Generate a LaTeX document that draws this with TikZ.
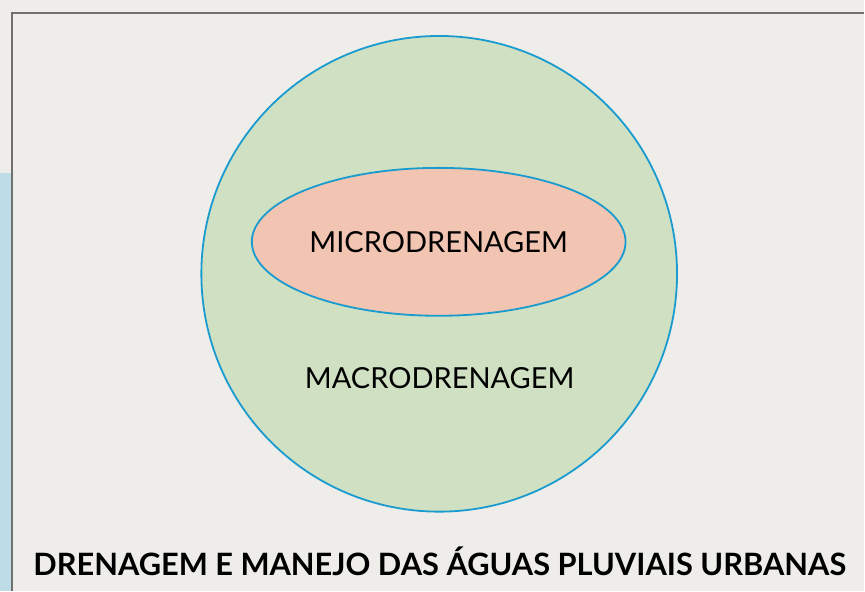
\documentclass[tikz,border=0pt]{standalone}
\usepackage{fontspec}
\setmainfont{Lato}
\usetikzlibrary{shapes.geometric}
\definecolor{paper}{RGB}{238, 237, 233}
\definecolor{rimblue}{RGB}{26, 155, 208}
\definecolor{macrogreen}{RGB}{207, 224, 195}
\definecolor{micropink}{RGB}{242, 196, 178}
\definecolor{stripblue}{RGB}{190, 220, 232}
\definecolor{framegray}{RGB}{112, 112, 112}

\begin{document}
\begin{tikzpicture}[
    x=1pt, y=-1pt,
    zone/.style={ellipse, draw=rimblue, line width=1.8pt, inner sep=0pt},
    label/.style={font=\fontsize{29}{33}\selectfont, text=black},
    title/.style={font=\fontsize{30.8}{34}\selectfont\bfseries, text=black}
  ]
    % background and frame
    \fill[paper] (0, 0) rectangle (865, 591);
    \fill[stripblue] (0, 173) rectangle (12, 591);
    \draw[framegray, line width=1.2pt] (12, 591) -- (12, 13) -- (865, 13);
    \useasboundingbox (0, 0) rectangle (865, 591);

    \node[zone, fill=macrogreen, minimum width=476pt, minimum height=476pt] at (439.5, 274) (macro) {};
    \node[zone, fill=micropink, minimum width=374pt, minimum height=148pt, label] at (439, 242) (micro) {MICRODRENAGEM};
    \node[label] at (440, 378) (macrotext) {MACRODRENAGEM};

    \node[title] at (440, 562) (heading) {DRENAGEM E MANEJO DAS ÁGUAS PLUVIAIS URBANAS};
  \end{tikzpicture}
\end{document}
